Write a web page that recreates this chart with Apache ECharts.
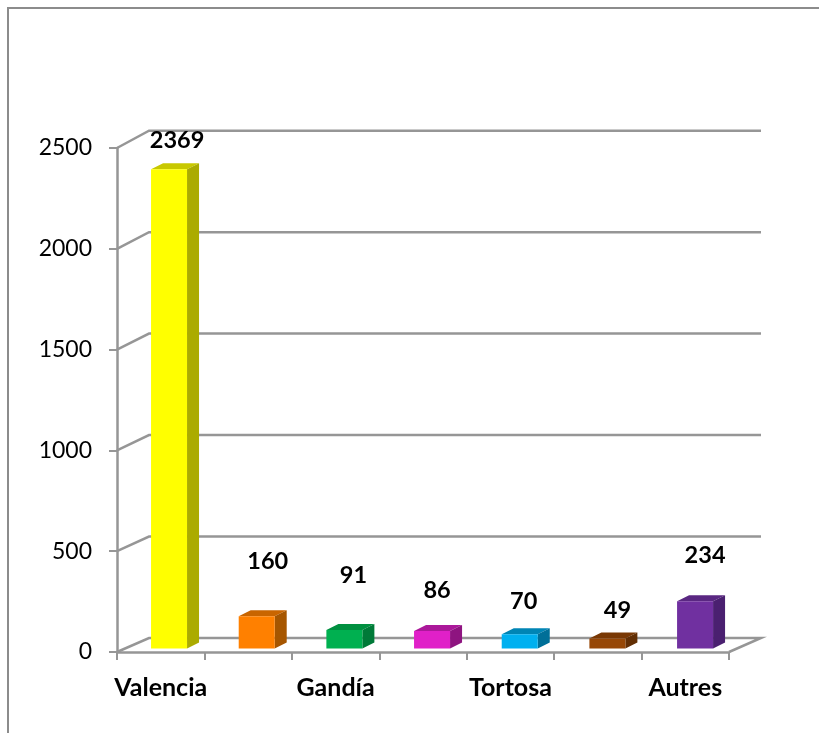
<!DOCTYPE html>
<html>
<head>
<meta charset="utf-8">
<style>html,body{margin:0;padding:0;background:#fff}#c{width:819px;height:733px}</style>
<script src="https://cdn.jsdelivr.net/npm/echarts@6/dist/echarts.min.js"></script>
</head>
<body>
<div id="c"></div>
<script>
const categories = ['Valencia', '', 'Gandía', '', 'Tortosa', '', 'Autres'];
const values = [2369, 160, 91, 86, 70, 49, 234];
const yTicks = [0, 500, 1000, 1500, 2000, 2500];
const frontColors = ['#FFFF00', '#FF8000', '#00B050', '#E020C8', '#00B0F0', '#974706', '#7030A0'];
const sideColors = ['#ABAB00', '#A65600', '#007A38', '#8E1480', '#006F98', '#622E04', '#4A2070'];
const topColors = ['#C8C800', '#C96500', '#009040', '#AB189A', '#0085B5', '#793804', '#5A2782'];
const labelLift = [29, 55, 55, 41, 33, 28, 46];
const labelShift = [8, 11, 9, 5, 4, 10, 10];

const DEPTH_X = 32, DEPTH_Y = 14, DEPTH_SKEW = 3.3;
const BAR_W = 36, SIDE_X = 12, SIDE_Y = 6;
const GREY = '#969696';
const LINE_W = 2.5;
const FONT = 'Lato';

const chart = echarts.init(document.getElementById('c'), null, {renderer: 'canvas'});
chart.setOption({
  animation: false,
  backgroundColor: '#fff',
  graphic: [{
    type: 'polyline', silent: true,
    shape: {points: [[8, 733], [8, 8], [819, 8]]},
    style: {stroke: '#8c8c8c', lineWidth: 2, fill: null}
  }],
  grid: [
    {left: 117, width: 612, top: 148, height: 504},
    {left: 125.2, width: 613.7, top: 142.8, height: 505.7}
  ],
  xAxis: [
    {
      type: 'category', gridIndex: 0, data: categories,
      axisLine: {lineStyle: {color: GREY, width: LINE_W}},
      axisTick: {show: true, length: 8, interval: 0, lineStyle: {color: GREY, width: 2}},
      axisLabel: {interval: 0, margin: 23, color: '#000', fontFamily: FONT, fontWeight: 'bold', fontSize: 25}
    },
    {type: 'category', gridIndex: 1, data: categories, show: false}
  ],
  yAxis: [
    {
      type: 'value', gridIndex: 0, min: 0, max: 2500, interval: 500,
      axisLine: {show: true, lineStyle: {color: GREY, width: LINE_W}},
      axisTick: {show: true, length: 8, lineStyle: {color: GREY, width: 2}},
      splitLine: {show: false},
      axisLabel: {margin: 25, color: '#000', fontFamily: FONT, fontSize: 23, padding: [3, 0, 0, 0], formatter: v => String(v)}
    },
    {type: 'value', gridIndex: 1, min: 0, max: 2500, show: false, splitLine: {show: false}}
  ],
  series: [
    {
      type: 'custom', xAxisIndex: 0, yAxisIndex: 0, clip: false, silent: true, z: 1,
      data: yTicks.map(v => [0, v]),
      renderItem(params, api) {
        const v = api.value(1);
        const cs = params.coordSys;
        const y = api.coord([0, v])[1];
        const by = y - (DEPTH_Y + DEPTH_SKEW * v / 2500);
        const pts = [[cs.x, y], [cs.x + DEPTH_X, by], [cs.x + cs.width + DEPTH_X, by]];
        if (v === 0) pts.push([cs.x + cs.width, y]);
        return {type: 'polyline', shape: {points: pts}, style: {stroke: GREY, lineWidth: LINE_W, fill: null}};
      }
    },
    {
      type: 'custom', xAxisIndex: 1, yAxisIndex: 1, clip: false, silent: true, z: 5,
      data: values.map((v, i) => [i, v]),
      renderItem(params, api) {
        const i = api.value(0), v = api.value(1);
        const top = api.coord([i, v]), base = api.coord([i, 0]);
        const l = top[0] - BAR_W / 2, r = top[0] + BAR_W / 2;
        return {
          type: 'group',
          children: [
            {type: 'polygon', shape: {points: [[l, top[1]], [l + SIDE_X, top[1] - SIDE_Y], [r + SIDE_X, top[1] - SIDE_Y], [r, top[1]]]}, style: {fill: topColors[i]}},
            {type: 'polygon', shape: {points: [[r, top[1]], [r + SIDE_X, top[1] - SIDE_Y], [r + SIDE_X, base[1] - SIDE_Y], [r, base[1]]]}, style: {fill: sideColors[i]}},
            {type: 'rect', shape: {x: l, y: top[1], width: BAR_W, height: base[1] - top[1]}, style: {fill: frontColors[i]}},
            {type: 'text', z2: 10, x: top[0] + labelShift[i], y: top[1] - labelLift[i],
              style: {text: String(v), fill: '#000', fontFamily: FONT, fontWeight: 'bold', fontSize: 23.5, align: 'center', verticalAlign: 'middle'}}
          ]
        };
      }
    }
  ]
});
</script>
</body>
</html>
